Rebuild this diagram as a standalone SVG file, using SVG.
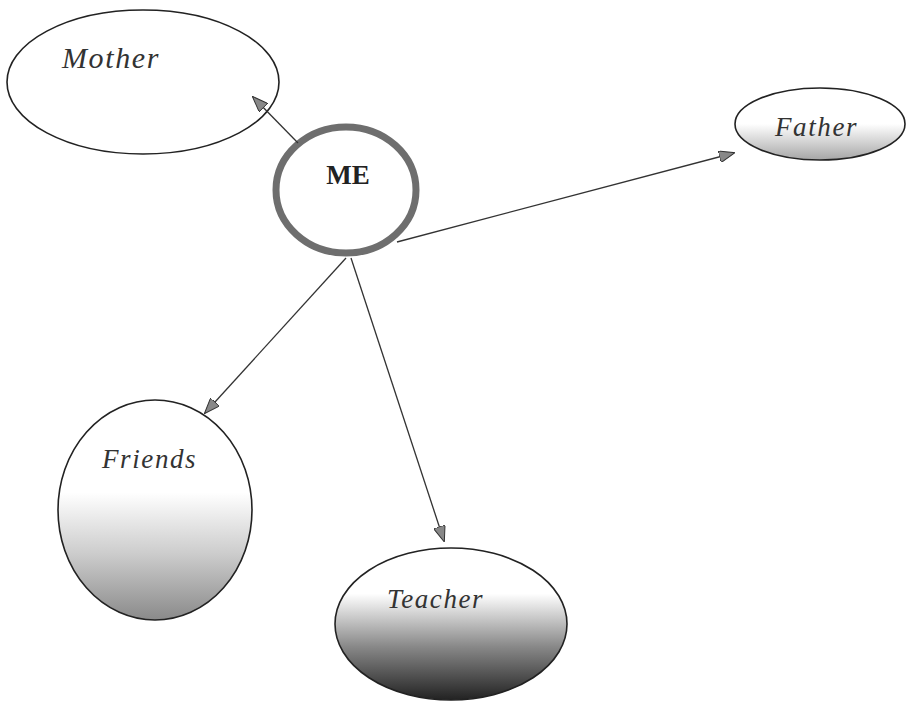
<svg xmlns="http://www.w3.org/2000/svg" width="907" height="706" viewBox="0 0 907 706">
<defs>
<style>
.node{stroke:#222;stroke-width:1.6}
.lbl{font-family:"Liberation Serif","Times New Roman",serif;font-style:italic;font-size:27px;letter-spacing:1.6px;fill:#333}
.edge{stroke:#333;stroke-width:1.3;fill:none;marker-end:url(#ah)}
</style>
<marker id="ah" viewBox="0 0 16 12" refX="15" refY="6" markerWidth="16" markerHeight="12" markerUnits="userSpaceOnUse" orient="auto">
<path d="M0,0 L16,6 L0,12 Z" fill="#888" stroke="#333" stroke-width="1"/>
</marker>
<linearGradient id="gFather" x1="0" y1="0" x2="0" y2="1">
<stop offset="0.5" stop-color="#fff"/>
<stop offset="1" stop-color="#a6a6a6"/>
</linearGradient>
<linearGradient id="gFriends" x1="0" y1="0" x2="0" y2="1">
<stop offset="0.42" stop-color="#fff"/>
<stop offset="0.7" stop-color="#ccc"/>
<stop offset="1" stop-color="#8a8a8a"/>
</linearGradient>
<linearGradient id="gTeacher" x1="0" y1="0" x2="0" y2="1">
<stop offset="0.3" stop-color="#fff"/>
<stop offset="0.65" stop-color="#888"/>
<stop offset="1" stop-color="#222"/>
</linearGradient>
</defs>
<g id="mother">
<ellipse class="node" cx="143" cy="82" rx="136" ry="72" fill="#fff"/>
<text class="lbl" x="62" y="68" style="font-size:30px">Mother</text>
</g>
<g id="me">
<ellipse cx="346" cy="190" rx="70" ry="63" fill="#fff" stroke="#6e6e6e" stroke-width="7"/>
<text x="348" y="184" text-anchor="middle" font-family="Liberation Serif, Times New Roman, serif" font-weight="bold" font-size="27" fill="#222">ME</text>
</g>
<g id="father">
<ellipse class="node" cx="820" cy="124" rx="85" ry="36" fill="url(#gFather)"/>
<text class="lbl" x="775" y="136">Father</text>
</g>
<g id="friends">
<ellipse class="node" cx="155" cy="510" rx="97" ry="110" fill="url(#gFriends)"/>
<text class="lbl" x="102" y="468">Friends</text>
</g>
<g id="teacher">
<ellipse class="node" cx="451" cy="624" rx="116" ry="76" fill="url(#gTeacher)"/>
<text class="lbl" x="387" y="608">Teacher</text>
</g>
<g id="connectors">
<line class="edge" x1="298" y1="143" x2="253" y2="97"/>
<line class="edge" x1="397" y1="242" x2="734" y2="153"/>
<line class="edge" x1="346" y1="258" x2="205" y2="413"/>
<line class="edge" x1="351" y1="258" x2="444" y2="541"/>
</g>
</svg>
